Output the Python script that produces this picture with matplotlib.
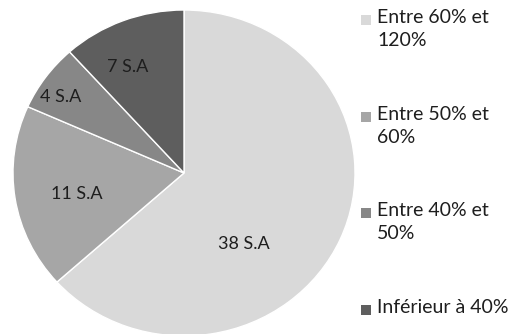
import matplotlib.pyplot as plt
import numpy as np
from matplotlib.patches import Rectangle

plt.rcParams['font.family'] = ['Lato', 'DejaVu Sans']

categories = ['Entre 60% et\n120%', 'Entre 50% et\n60%', 'Entre 40% et\n50%', 'Inférieur à 40%']
values = [38, 11, 4, 7]
value_labels = ['38 S.A', '11 S.A', '4 S.A', '7 S.A']
colors = ['#d9d9d9', '#a6a6a6', '#878787', '#5e5e5e']

# label placement inside each slice: (angle in degrees, fraction of radius)
label_pos = [(-51.5, 0.56), (191.4, 0.64), (147.0, 0.86), (117.0, 0.73)]

fig = plt.figure(figsize=(5.31, 3.34), dpi=100)
# pie is stretched slightly wider than tall
ax = fig.add_axes([13 / 531, -2 / 334, 342 / 531, 326 / 334])

wedges, _ = ax.pie(values, colors=colors, startangle=90, counterclock=False,
                   radius=1, wedgeprops=dict(edgecolor='white', linewidth=1))
ax.set_xlim(-1, 1)
ax.set_ylim(-1, 1)
ax.set_aspect('auto')
ax.set_axis_off()

for text, (ang, r) in zip(value_labels, label_pos):
    a = np.deg2rad(ang)
    ax.text(r * np.cos(a), r * np.sin(a), text, ha='center', va='center',
            fontsize=13, color='#1e1e1e')

# legend drawn by hand so the square lines up with the first text line
legend_y = [20, 117, 213, 310]
for cat, col, y in zip(categories, colors, legend_y):
    fy = 1 - y / 334
    fig.patches.append(Rectangle((361 / 531, fy - 5 / 334), 10 / 531, 10 / 334,
                                 transform=fig.transFigure, facecolor=col,
                                 edgecolor='none'))
    fig.text(377 / 531, fy + 11 / 334, cat, ha='left', va='top', fontsize=14,
             color='#1e1e1e', linespacing=1.4, transform=fig.transFigure)

fig.savefig('out.png', dpi=100)
